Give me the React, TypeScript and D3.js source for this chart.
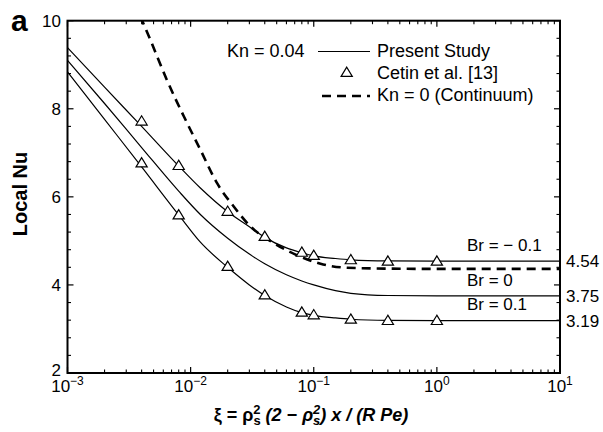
import React from "react";
import * as d3 from "d3";

// ---- data ----
const xTop = [0.001, 0.002, 0.004, 0.008, 0.012, 0.02, 0.03, 0.04, 0.06, 0.08, 0.1, 0.15, 0.2, 0.4, 1, 10];
const nuTop = [9.39, 8.49, 7.6, 6.7, 6.2, 5.66, 5.32, 5.08, 4.84, 4.73, 4.66, 4.6, 4.57, 4.545, 4.54, 4.54];

const xMid = [0.001, 0.002, 0.004, 0.008, 0.012, 0.02, 0.03, 0.04, 0.06, 0.08, 0.1, 0.15, 0.2, 0.4, 1, 10];
const nuMid = [9.1, 8.12, 7.12, 6.13, 5.6, 5.06, 4.7, 4.48, 4.23, 4.09, 4.0, 3.87, 3.81, 3.76, 3.75, 3.75];

const xBot = [0.001, 0.002, 0.004, 0.008, 0.012, 0.02, 0.03, 0.04, 0.06, 0.08, 0.1, 0.15, 0.2, 0.4, 1, 10];
const nuBot = [8.84, 7.76, 6.68, 5.59, 4.97, 4.4, 4.0, 3.76, 3.5, 3.37, 3.31, 3.25, 3.22, 3.195, 3.19, 3.19];

const xCont = [0.0039, 0.0047, 0.0064, 0.0088, 0.012, 0.0164, 0.0224, 0.0306, 0.0474, 0.078, 0.1135, 0.187, 0.4, 1, 10];
const nuCont = [10.1, 9.57, 8.66, 7.83, 7.07, 6.31, 5.78, 5.33, 4.95, 4.64, 4.48, 4.39, 4.37, 4.364, 4.364];

const xCetin = [0.004, 0.008, 0.02, 0.04, 0.08, 0.1, 0.2, 0.4, 1];
const nuCetinTop = [7.72, 6.71, 5.67, 5.1, 4.74, 4.67, 4.57, 4.54, 4.54];
const nuCetinBot = [6.77, 5.59, 4.42, 3.77, 3.38, 3.32, 3.22, 3.19, 3.19];

const yTicks = [2, 4, 6, 8, 10];
const xDecades = [-3, -2, -1, 0, 1];
const endValues = ["4.54", "3.75", "3.19"];
const endNu = [4.54, 3.75, 3.19];
const brLabels = ["Br = \u2212 0.1", "Br = 0", "Br = 0.1"];
const brNu = [4.78, 3.98, 3.42];

const W = 603;
const H = 432;
const L = 67.5, R = 560, T = 20.7, B = 373;
const FONT = "Liberation Sans, Arial, Helvetica, sans-serif";

export default function App() {
  const x = d3.scaleLog().domain([1e-3, 10]).range([L, R]);
  const y = d3.scaleLinear().domain([2, 10]).range([B, T]);
  const line = d3
    .line<[number, number]>()
    .x((d) => x(d[0]))
    .y((d) => y(d[1]))
    .curve(d3.curveMonotoneX);

  const zip = (a: number[], b: number[]) => a.map((v, i) => [v, b[i]] as [number, number]);

  const minorX: number[] = [];
  for (let e = -3; e < 1; e++) for (let k = 2; k <= 9; k++) minorX.push(k * Math.pow(10, e));
  const minorY: number[] = d3.range(2, 10.001, 0.4).filter((v) => Math.abs(v / 2 - Math.round(v / 2)) > 1e-6);

  const tri = (cx: number, cy: number, key: string) => {
    const s = 5.6;
    const pts = `${cx},${cy - s * 0.95} ${cx - s},${cy + s * 0.7} ${cx + s},${cy + s * 0.7}`;
    return <polygon key={key} points={pts} fill="white" stroke="black" strokeWidth={1.2} />;
  };

  return (
    <svg width={W} height={H} style={{ position: "absolute", left: 0, top: 0, background: "white" }} fontFamily={FONT}>
      <rect x={0} y={0} width={W} height={H} fill="white" />
      <defs>
        <clipPath id="plotclip">
          <rect x={L} y={T} width={R - L} height={B - T} />
        </clipPath>
      </defs>

      <g clipPath="url(#plotclip)">
        <path d={line(zip(xTop, nuTop)) || ""} fill="none" stroke="black" strokeWidth={1.2} />
        <path d={line(zip(xMid, nuMid)) || ""} fill="none" stroke="black" strokeWidth={1.2} />
        <path d={line(zip(xBot, nuBot)) || ""} fill="none" stroke="black" strokeWidth={1.2} />
        <path d={line(zip(xCont, nuCont)) || ""} fill="none" stroke="black" strokeWidth={2.6} strokeDasharray="9,6" />
      </g>

      {xCetin.map((v, i) => tri(x(v), y(nuCetinTop[i]), "t" + i))}
      {xCetin.map((v, i) => tri(x(v), y(nuCetinBot[i]), "b" + i))}

      {/* frame */}
      <rect x={L} y={T} width={R - L} height={B - T} fill="none" stroke="black" strokeWidth={2} />

      {/* x ticks */}
      {xDecades.map((e) => {
        const px = x(Math.pow(10, e));
        return (
          <g key={"xd" + e}>
            <line x1={px} x2={px} y1={B} y2={B - 6} stroke="black" strokeWidth={1.2} />
            <line x1={px} x2={px} y1={T} y2={T + 6} stroke="black" strokeWidth={1.2} />
            <text x={px} y={392} textAnchor="middle" fontSize={17}>
              10
              <tspan dy={-7} fontSize={12}>{e < 0 ? "\u2212" + Math.abs(e) : String(e)}</tspan>
            </text>
          </g>
        );
      })}
      {minorX.map((v, i) => (
        <g key={"xm" + i}>
          <line x1={x(v)} x2={x(v)} y1={B} y2={B - 3.5} stroke="black" strokeWidth={1.1} />
          <line x1={x(v)} x2={x(v)} y1={T} y2={T + 3.5} stroke="black" strokeWidth={1.1} />
        </g>
      ))}

      {/* y ticks */}
      {yTicks.map((v) => (
        <g key={"yt" + v}>
          <line x1={L} x2={L + 6} y1={y(v)} y2={y(v)} stroke="black" strokeWidth={1.2} />
          <line x1={R} x2={R - 6} y1={y(v)} y2={y(v)} stroke="black" strokeWidth={1.2} />
          <text x={61} y={y(v) - (v === 2 ? 3 : 0)} dy="0.36em" textAnchor="end" fontSize={17}>
            {v}
          </text>
        </g>
      ))}
      {minorY.map((v, i) => (
        <g key={"ym" + i}>
          <line x1={L} x2={L + 3.5} y1={y(v)} y2={y(v)} stroke="black" strokeWidth={1.1} />
          <line x1={R} x2={R - 3.5} y1={y(v)} y2={y(v)} stroke="black" strokeWidth={1.1} />
        </g>
      ))}

      {/* right-side end values */}
      {endValues.map((t, i) => (
        <text key={"ev" + i} x={566} y={y(endNu[i])} dy="0.36em" fontSize={17}>
          {t}
        </text>
      ))}

      {/* Br labels */}
      {brLabels.map((t, i) => (
        <text key={"br" + i} x={467} y={y(brNu[i])} fontSize={17}>
          {t}
        </text>
      ))}

      {/* legend */}
      <text x={227} y={57} fontSize={18}>Kn = 0.04</text>
      <line x1={318} x2={370} y1={51.5} y2={51.5} stroke="black" strokeWidth={1.2} />
      <text x={377} y={57} fontSize={18}>Present Study</text>
      {tri(346.7, 72.5, "leg")}
      <text x={377} y={79} fontSize={18}>Cetin et al. [13]</text>
      <line x1={322} x2={370} y1={96} y2={96} stroke="black" strokeWidth={2.6} strokeDasharray="9,6" />
      <text x={377} y={101} fontSize={18}>Kn = 0 (Continuum)</text>

      {/* panel letter */}
      <text x={11} y={31} fontSize={30} fontWeight="bold">a</text>

      {/* y label */}
      <text transform="translate(27,194) rotate(-90)" textAnchor="middle" fontSize={20} fontWeight="bold">
        Local Nu
      </text>

      {/* x label */}
      <text x={311} y={421} textAnchor="middle" fontSize={18} fontWeight="bold">
        <tspan>{"\u03BE = \u03C1"}</tspan>
        <tspan dy={-7} fontSize={13}>2</tspan>
        <tspan dx={-7.2} dy={11} fontSize={13}>s</tspan>
        <tspan dy={-4} fontStyle="italic">{" (2 \u2212 \u03C1"}</tspan>
        <tspan dy={-7} fontSize={13} fontStyle="italic">2</tspan>
        <tspan dx={-7.2} dy={11} fontSize={13} fontStyle="italic">s</tspan>
        <tspan dy={-4} fontStyle="italic">{") x / (R Pe)"}</tspan>
      </text>
    </svg>
  );
}
